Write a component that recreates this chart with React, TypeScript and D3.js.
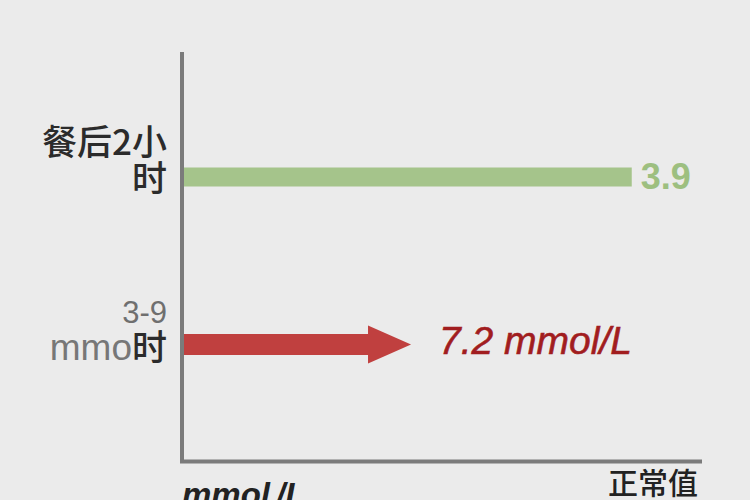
import React from "react";
import * as d3 from "d3";

// Rows of the chart
const categories = ["餐后2小时", "3-9 mmol时"];
// Bar lengths in mmol/L
const barValues = [14.2, 7.2];
// Labels drawn at the end of each mark
const valueLabels = ["3.9", "7.2 mmol/L"];
const xAxisTitle = ["mmol", "/L"];
const xAxisEndLabel = "正常值";

const W = 750;
const H = 500;
const BG = "#ebebeb";
const AXIS = "#7b7b7b";
const GREEN = "#a5c48b";
const GREEN_TEXT = "#9dbf80";
const RED = "#c0403f";
const RED_TEXT = "#a11d1f";

const FONT = "'Liberation Sans', Arial, 'Noto Sans CJK SC', sans-serif";
const CJK = "'Noto Sans CJK SC', 'Liberation Sans', sans-serif";

export default function App() {
  const x = d3.scaleLinear().domain([0, 16]).range([184, 688.5]);
  const y = d3.scalePoint<string>().domain(categories).range([177, 344.5]);

  const greenY = y(categories[0])!;
  const redY = y(categories[1])!;

  // Arrow for the second row
  const tipX = x(barValues[1]);
  const headLen = 43;
  const shaftH = 21;
  const headH = 38;
  const x0 = x(0);
  const arrowPts: [number, number][] = [
    [x0, redY - shaftH / 2],
    [tipX - headLen, redY - shaftH / 2],
    [tipX - headLen, redY - headH / 2],
    [tipX, redY],
    [tipX - headLen, redY + headH / 2],
    [tipX - headLen, redY + shaftH / 2],
    [x0, redY + shaftH / 2],
  ];
  const arrowPath = d3.line()(arrowPts) + "Z";

  return (
    <svg
      width={W}
      height={H}
      style={{ position: "fixed", left: 0, top: 0, display: "block" }}
    >
      <rect width={W} height={H} fill={BG} />

      {/* green bar */}
      <rect
        x={x0}
        y={greenY - 9.5}
        width={x(barValues[0]) - x0}
        height={19}
        fill={GREEN}
      />
      <text
        x={x(barValues[0]) + 9}
        y={greenY - 1}
        dy="0.36em"
        fontFamily={FONT}
        fontWeight="bold"
        fontSize={36}
        fill={GREEN_TEXT}
      >
        {valueLabels[0]}
      </text>

      {/* red arrow */}
      <path d={arrowPath} fill={RED} />
      <text
        x={tipX + 28}
        y={redY - 5}
        dy="0.36em"
        fontFamily={FONT}
        fontStyle="italic"
        fontSize={39}
        fill={RED_TEXT}
        stroke={RED_TEXT}
        strokeWidth={0.6}
      >
        {valueLabels[1]}
      </text>

      {/* row labels */}
      <g fontFamily={CJK} textAnchor="end" fontWeight={500}>
        <text x={167} y={142} dy="0.36em" fontSize={35} fill="#2b2b2b">
          餐后2小
        </text>
        <text x={167} y={greenY + 1} dy="0.36em" fontSize={35} fill="#2b2b2b">
          时
        </text>
        <text x={167} y={312} dy="0.36em" fontSize={31} fill="#6f6f6f" fontFamily={FONT}>
          3-9
        </text>
        <text x={167} y={347} dy="0.36em" fontSize={35}>
          <tspan fill="#777" fontFamily={FONT} fontSize={37} fontWeight="normal">mmo</tspan>
          <tspan fill="#2b2b2b">时</tspan>
        </text>
      </g>

      {/* axes */}
      <line x1={182} x2={182} y1={52} y2={463} stroke={AXIS} strokeWidth={4} />
      <line x1={180} x2={702} y1={461.5} y2={461.5} stroke={AXIS} strokeWidth={4} />

      <text
        x={182}
        y={506}
        fontFamily={FONT}
        fontStyle="italic"
        fontWeight="bold"
        fontSize={33}
        fill="#222"
      >
        <tspan>{xAxisTitle[0]}</tspan>
        <tspan dx={6}>{xAxisTitle[1]}</tspan>
      </text>
      <text
        x={698}
        y={483}
        dy="0.36em"
        textAnchor="end"
        fontFamily={CJK}
        fontWeight={500}
        fontSize={30}
        fill="#222"
      >
        {xAxisEndLabel}
      </text>
    </svg>
  );
}
